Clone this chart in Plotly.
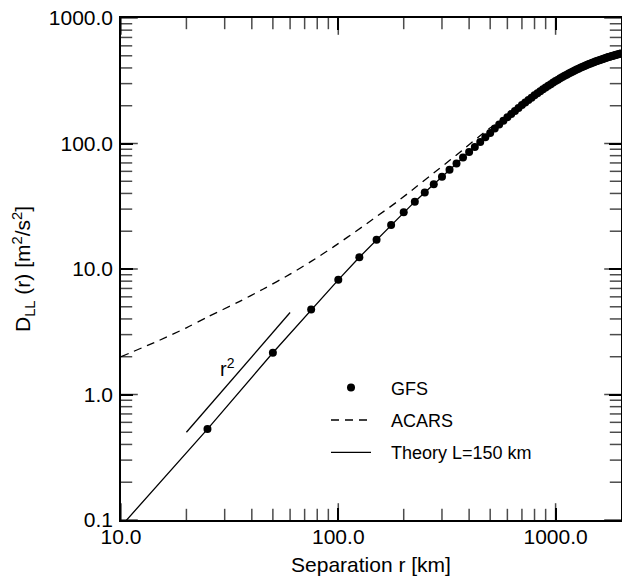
import math
import plotly.graph_objects as go

# ---------------- data ----------------
gfs_r = [25, 50, 75, 100, 125, 150, 175, 200, 225, 250, 275, 300, 325, 350, 375, 400,
         425, 450, 475, 500, 525, 550, 575, 600, 625, 650, 675, 700, 725, 750, 775, 800,
         825, 850, 875, 900, 925, 950, 975, 1000, 1025, 1050, 1075, 1100, 1125, 1150, 1175, 1200,
         1225, 1250, 1275, 1300, 1325, 1350, 1375, 1400, 1425, 1450, 1475, 1500, 1525, 1550, 1575, 1600,
         1625, 1650, 1675, 1700, 1725, 1750, 1775, 1800, 1825, 1850, 1875, 1900, 1925, 1950, 1975, 2000]
gfs_d = [0.53, 2.15, 4.75, 8.2, 12.4, 17.1, 22.4, 28.3, 34.4, 40.7, 47.4, 54.4, 61.7, 69.3, 77.2, 85.4,
         93.9, 102.7, 111.9, 121.4, 131.6, 141.4, 151.5, 161.8, 171.7, 181.7, 191.9, 202.3, 212.1, 222.0, 232.0, 242.1,
         251.4, 260.8, 270.3, 279.8, 288.5, 297.2, 305.9, 314.7, 322.6, 330.6, 338.5, 346.5, 353.7, 360.8, 367.9, 375.1,
         381.5, 387.9, 394.3, 400.7, 406.6, 412.4, 418.2, 423.9, 429.2, 434.5, 439.7, 444.9, 449.7, 454.4, 459.1, 463.7,
         468.0, 472.2, 476.3, 480.4, 484.3, 488.1, 491.8, 495.5, 499.0, 502.4, 505.8, 509.1, 512.3, 515.4, 518.4, 521.4]

theory_r = [10.0] + gfs_r
theory_d = [0.089] + gfs_d

acars_r = [10, 15, 20, 25, 35, 45, 60, 75, 95, 130, 145, 185, 230, 290, 370, 495, 550, 600, 650]
acars_d = [2.0, 2.7, 3.4, 4.14, 5.5, 6.9, 9.1, 11.5, 15.0, 21.9, 25.1, 34.0, 45.6, 62.6, 87.6, 131.7, 147, 165, 185]

ref_r = [20, 60]
ref_d = [0.5, 4.5]
ref_label_r = 31.0
ref_label_d = 1.63

x_tickvals = [10, 100, 1000]
x_ticktext = ["10.0", "100.0", "1000.0"]
x_minor = [20, 30, 40, 50, 60, 70, 80, 90, 200, 300, 400, 500, 600, 700, 800, 900]
y_tickvals = [0.1, 1, 10, 100, 1000]
y_ticktext = ["0.1", "1.0", "10.0", "100.0", "1000.0"]
y_minor = [0.2, 0.3, 0.4, 0.5, 0.6, 0.7, 0.8, 0.9, 2, 3, 4, 5, 6, 7, 8, 9,
           20, 30, 40, 50, 60, 70, 80, 90, 200, 300, 400, 500, 600, 700, 800, 900]
x_range = [10, 2000]
y_range = [0.1, 1000]

# ---------------- layout constants ----------------
W, H = 622, 580
ML, MR, MT, MB = 121, 1, 18, 60
MAJOR_LEN = 12
MINOR_LEN = 8
TICK_W = 1.5
FONT = "Liberation Sans, Arial, Helvetica, sans-serif"
PAD = "\u00a0\u00a0\u00a0"

xr = [math.log10(x_range[0]), math.log10(x_range[1])]
yr = [math.log10(y_range[0]), math.log10(y_range[1])]

fig = go.Figure()

# inside tick marks on all four sides: line markers centred on the frame, the outer half
# clipped away by the plot area, placed through the axes' own log scales
xt_x, xt_y, xt_s = [], [], []
for vals, ln in ((x_tickvals, MAJOR_LEN), (x_minor, MINOR_LEN)):
    for v in vals:
        for edge in y_range:
            xt_x.append(v)
            xt_y.append(edge)
            xt_s.append(2 * ln)
yt_x, yt_y, yt_s = [], [], []
for vals, ln in ((y_tickvals, MAJOR_LEN), (y_minor, MINOR_LEN)):
    for v in vals:
        for edge in x_range:
            yt_x.append(edge)
            yt_y.append(v)
            yt_s.append(2 * ln)
fig.add_trace(go.Scatter(x=xt_x, y=xt_y, mode="markers", showlegend=False, hoverinfo="skip",
                         cliponaxis=True,
                         marker=dict(symbol="line-ns", size=xt_s, color="#000000",
                                     line=dict(width=TICK_W, color="#000000"))))
fig.add_trace(go.Scatter(x=yt_x, y=yt_y, mode="markers", showlegend=False, hoverinfo="skip",
                         cliponaxis=True,
                         marker=dict(symbol="line-ew", size=yt_s, color="#000000",
                                     line=dict(width=TICK_W, color="#000000"))))

fig.add_trace(go.Scatter(x=theory_r, y=theory_d, mode="lines", name=PAD + "Theory L=150 km",
                         line=dict(color="black", width=1.3), legendgroup="c", legendrank=3))
fig.add_trace(go.Scatter(x=acars_r, y=acars_d, mode="lines", name=PAD + "ACARS",
                         line=dict(color="black", width=1.3, dash="8px,6px", shape="spline", smoothing=0.8),
                         legendgroup="b", legendrank=2))
fig.add_trace(go.Scatter(x=ref_r, y=ref_d, mode="lines", showlegend=False,
                         line=dict(color="black", width=1.3)))
fig.add_trace(go.Scatter(x=gfs_r, y=gfs_d, mode="markers", name=PAD + "GFS",
                         marker=dict(color="black", size=8), legendgroup="a", legendrank=1))

fig.add_annotation(x=math.log10(ref_label_r), y=math.log10(ref_label_d), xref="x", yref="y",
                   text="r<sup>2</sup>", showarrow=False, font=dict(size=20, color="black", family=FONT))

axis_ticks = dict(ticks="inside", ticklen=MAJOR_LEN, tickwidth=TICK_W, tickcolor="#000000")

fig.update_layout(
    template="none",
    width=W, height=H,
    margin=dict(l=ML, r=MR, t=MT, b=MB),
    paper_bgcolor="white", plot_bgcolor="white",
    font=dict(family=FONT, color="black"),
    xaxis=dict(type="log", range=xr, showgrid=False, zeroline=False, showline=True, linecolor="black",
               linewidth=1.5, mirror="allticks", **axis_ticks, tickvals=x_tickvals, ticktext=x_ticktext,
               ticklabelstandoff=-3, automargin=False,
               tickfont=dict(size=21, color="black", family=FONT),
               title=dict(text="Separation r [km]", font=dict(size=21, color="black", family=FONT), standoff=10)),
    yaxis=dict(type="log", range=yr, showgrid=False, zeroline=False, showline=True, linecolor="black",
               linewidth=1.5, mirror="allticks", **axis_ticks, tickvals=y_tickvals, ticktext=y_ticktext,
               ticklabelstandoff=2, automargin=False,
               tickfont=dict(size=21, color="black", family=FONT),
               title=dict(text="D<sub>LL</sub> (r) [m<sup>2</sup>/s<sup>2</sup>]",
                          font=dict(size=21, color="black", family=FONT), standoff=12)),
    legend=dict(x=0.41, y=0.300, xanchor="left", yanchor="top", bgcolor="rgba(0,0,0,0)",
                font=dict(size=18, color="black", family=FONT), tracegroupgap=6, itemwidth=40),
)

fig.write_html("out.html")
